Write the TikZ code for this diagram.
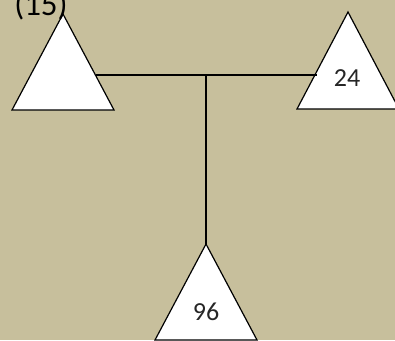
\documentclass[tikz,border=0pt]{standalone}
\usepackage{fontspec}
\setmainfont{Carlito}
\definecolor{khaki}{RGB}{199,191,156}
\begin{document}
\begin{tikzpicture}[x=1pt,y=-1pt,tri/.style={draw=black,fill=white,line width=1.2pt,line join=miter},link/.style={draw=black,line width=1.3pt},num/.style={font=\fontsize{26}{30}\selectfont,text=black!85}]
\fill[khaki] (0,0) rectangle (395,340);
\useasboundingbox (0,0) rectangle (395,340);
% triangles
\draw[tri] (63,14) -- ++(-51,96) -- ++(102,0) -- cycle;
\draw[tri] (348,12) -- ++(-51,97) -- ++(102,0) -- cycle;
\draw[tri] (206,244) -- ++(-51,96) -- ++(102,0) -- cycle;
\node[anchor=base,font=\fontsize{33}{36}\selectfont] (top) at (41,15) {(15)};
\node[num] (right) at (347,78) {24};
\node[num] (bottom) at (206,312) {96};
% joints
\coordinate (L) at (96,75);\coordinate (R) at (317,75);
\coordinate (M) at (206,75);\coordinate (B) at (206,244);
\draw[link] (L) -- (R);
\draw[link] (M) -- (B);
\end{tikzpicture}
\end{document}
